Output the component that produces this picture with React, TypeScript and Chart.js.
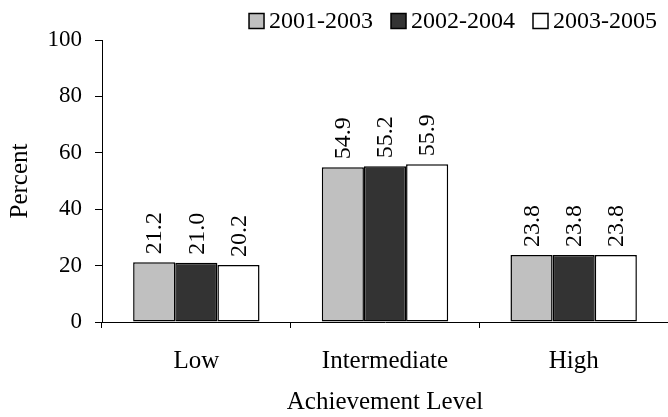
import React, { useEffect, useRef } from 'react';
import { Chart, registerables } from 'chart.js';

Chart.register(...registerables);

const categories = ['Low', 'Intermediate', 'High'];
const seriesLabels = ['2001-2003', '2002-2004', '2003-2005'];
const series2001_2003 = [21.2, 54.9, 23.8];
const series2002_2004 = [21.0, 55.2, 23.8];
const series2003_2005 = [20.2, 55.9, 23.8];
const yTickStep = 20;
const yMin = 0;
const yMax = 100;
const xTitle = 'Achievement Level';
const yTitle = 'Percent';

const seriesColors = ['#c0c0c0', '#333333', '#ffffff'];
const FONT_FAMILY = '"Liberation Serif", "Times New Roman", serif';
const LABEL_SIZE = 25;
const TICK_SIZE = 23;
const LEGEND_SIZE = 24;
const VALUE_SIZE = 24;

const legendPlugin = {
  id: 'customLegend',
  afterDraw(chart: any) {
    const ctx = chart.ctx;
    ctx.save();
    ctx.font = `${LEGEND_SIZE}px ${FONT_FAMILY}`;
    const box = 15;
    const boxGap = 5;
    const itemGap = 18;
    const rightEdge = 657;
    const yCenter = 21;
    const items = chart.data.datasets.map((ds: any) => ({
      label: ds.label,
      color: ds.backgroundColor,
      w: ctx.measureText(ds.label).width,
    }));
    const total =
      items.reduce((s: number, it: any) => s + box + boxGap + it.w, 0) + itemGap * (items.length - 1);
    let x = rightEdge - total;
    items.forEach((it: any) => {
      ctx.fillStyle = it.color;
      ctx.fillRect(x, yCenter - box / 2, box, box);
      ctx.strokeStyle = '#000';
      ctx.lineWidth = 1.5;
      ctx.strokeRect(x, yCenter - box / 2, box, box);
      ctx.fillStyle = '#000';
      ctx.textAlign = 'left';
      ctx.textBaseline = 'middle';
      ctx.fillText(it.label, x + box + boxGap, yCenter + 1);
      x += box + boxGap + it.w + itemGap;
    });
    ctx.restore();
  },
};

const valueLabelPlugin = {
  id: 'valueLabels',
  afterDatasetsDraw(chart: any) {
    const ctx = chart.ctx;
    ctx.save();
    ctx.font = `${VALUE_SIZE}px ${FONT_FAMILY}`;
    ctx.fillStyle = '#000';
    ctx.textAlign = 'left';
    ctx.textBaseline = 'middle';
    chart.data.datasets.forEach((ds: any, i: number) => {
      const meta = chart.getDatasetMeta(i);
      meta.data.forEach((bar: any, j: number) => {
        const v = ds.data[j];
        ctx.save();
        ctx.translate(bar.x + 1, bar.y - 8);
        ctx.rotate(-Math.PI / 2);
        ctx.fillText(Number(v).toFixed(1), 0, 0);
        ctx.restore();
      });
    });
    ctx.restore();
  },
};

export default function App() {
  const canvasRef = useRef<HTMLCanvasElement | null>(null);

  useEffect(() => {
    document.body.style.margin = '0';
    const canvas = canvasRef.current;
    if (!canvas) return;
    const tickFont = { family: FONT_FAMILY, size: TICK_SIZE };
    const labelFont = { family: FONT_FAMILY, size: LABEL_SIZE };
    const seriesValues = [series2001_2003, series2002_2004, series2003_2005];
    const chart = new Chart(canvas, {
      type: 'bar',
      data: {
        labels: categories,
        datasets: seriesLabels.map((label, i) => ({
          label,
          data: seriesValues[i],
          backgroundColor: seriesColors[i],
          borderColor: '#000',
          borderWidth: 1.5,
          borderSkipped: false,
          categoryPercentage: 0.67,
          barPercentage: 1.0,
        })),
      },
      options: {
        responsive: false,
        animation: false,
        devicePixelRatio: 1,
        layout: { padding: { top: 40, right: 0, left: 0, bottom: 0 } },
        plugins: {
          legend: { display: false },
          tooltip: { enabled: false },
        },
        scales: {
          x: {
            type: 'category',
            offset: true,
            grid: {
              display: true,
              offset: true,
              drawOnChartArea: false,
              drawTicks: true,
              tickLength: 6,
              color: '#000',
              lineWidth: 1,
            },
            border: { display: true, color: '#000', width: 1 },
            ticks: { font: labelFont, color: '#000', padding: 18, maxRotation: 0, autoSkip: false },
            title: {
              display: true,
              text: xTitle,
              font: labelFont,
              color: '#000',
              padding: { top: 0, bottom: 0 },
            },
            afterFit: (s: any) => {
              s.height = 95;
            },
          },
          y: {
            min: yMin,
            max: yMax,
            grid: {
              display: true,
              drawOnChartArea: false,
              drawTicks: true,
              tickLength: 7,
              color: '#000',
              lineWidth: 1,
            },
            border: { display: true, color: '#000', width: 1 },
            ticks: { stepSize: yTickStep, font: tickFont, color: '#000', padding: 13 },
            title: {
              display: true,
              text: yTitle,
              font: labelFont,
              color: '#000',
              padding: { top: 5, bottom: 4 },
            },
            afterFit: (s: any) => {
              s.width = 102;
            },
          },
        },
      },
      plugins: [legendPlugin, valueLabelPlugin],
    });
    return () => chart.destroy();
  }, []);

  return (
    <div style={{ width: 668, height: 417 }}>
      <canvas ref={canvasRef} width={668} height={417} />
    </div>
  );
}
